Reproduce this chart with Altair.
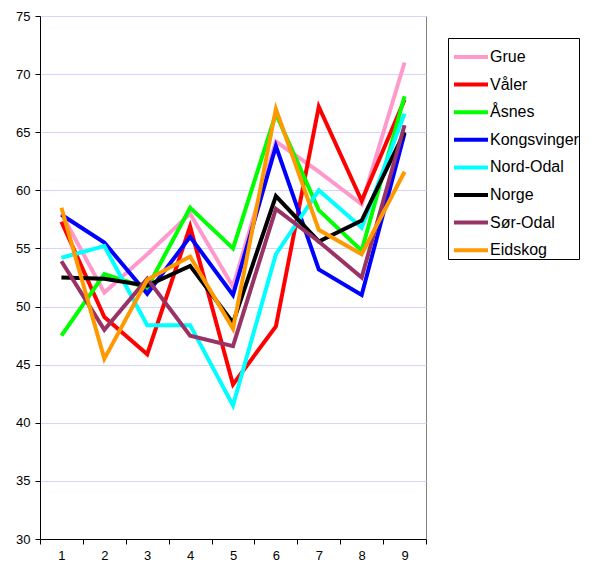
import altair as alt
import pandas as pd

periods = [1, 2, 3, 4, 5, 6, 7, 8, 9]
series_names = ["Grue", "Våler", "Åsnes", "Kongsvinger", "Nord-Odal", "Norge", "Sør-Odal", "Eidskog"]
series_colors = ["#ff99cc", "#ff0000", "#00ff00", "#0000ff", "#00ffff", "#000000", "#993366", "#ff9900"]

grue = [58.0, 51.2, 54.5, 58.0, 51.7, 64.2, 61.6, 58.8, 71.0]
valer = [57.3, 49.1, 45.9, 56.9, 43.3, 48.3, 67.2, 59.1, 67.8]
asnes = [47.5, 52.8, 51.6, 58.5, 55.0, 66.6, 58.3, 54.8, 68.1]
kongsvinger = [57.9, 55.5, 51.1, 56.0, 51.0, 63.8, 53.2, 51.0, 64.9]
nord_odal = [54.2, 55.2, 48.4, 48.4, 41.5, 54.5, 60.0, 56.8, 66.6]
norge = [52.5, 52.4, 51.8, 53.5, 48.6, 59.5, 55.6, 57.4, 65.0]
sor_odal = [53.9, 48.0, 52.4, 47.5, 46.6, 58.4, 55.6, 52.5, 65.6]
eidskog = [58.5, 45.5, 52.3, 54.3, 48.1, 67.0, 56.6, 54.5, 61.6]

y_ticks = [30, 35, 40, 45, 50, 55, 60, 65, 70, 75]

all_series = [grue, valer, asnes, kongsvinger, nord_odal, norge, sor_odal, eidskog]
rows = []
for order, (name, vals) in enumerate(zip(series_names, all_series)):
    for p, v in zip(periods, vals):
        rows.append({"periode": str(p), "verdi": v, "serie": name, "ord": order})
df = pd.DataFrame(rows)

FONT = "Liberation Sans"

chart = alt.Chart(df).mark_line(strokeWidth=4, strokeJoin="miter", strokeCap="butt").encode(
    x=alt.X("periode:O", title=None,
            sort=[str(p) for p in periods],
            scale=alt.Scale(type="band", paddingInner=0, paddingOuter=0),
            axis=alt.Axis(labelAngle=0, tickBand="extent", grid=False, domainColor="#000000",
                          tickColor="#000000", tickSize=5, labelFontSize=13, labelColor="#000000",
                          labelFont=FONT, labelPadding=5)),
    y=alt.Y("verdi:Q", title=None,
            scale=alt.Scale(domain=[30, 75], nice=False, zero=False),
            axis=alt.Axis(values=y_ticks, grid=True, gridColor="#d4d4ff", gridWidth=1,
                          domainColor="#000000", tickColor="#000000", tickSize=5,
                          labelFontSize=13, labelColor="#000000", labelFont=FONT, labelPadding=5)),
    color=alt.Color("serie:N", title=None,
                    scale=alt.Scale(domain=series_names, range=series_colors),
                    legend=alt.Legend(orient="none", legendX=408, legendY=22,
                                      symbolType="stroke", symbolSize=1156, symbolStrokeWidth=4,
                                      symbolOffset=4,
                                      labelFontSize=16, labelFont=FONT, labelColor="#000000",
                                      labelOffset=0, rowPadding=0.6, padding=0,
                                      strokeColor="#000000", fillColor="#ffffff")),
    order=alt.Order("ord:Q"),
    detail="serie:N",
).properties(
    width=386, height=523,
    autosize=alt.AutoSizeParams(type="none"),
    padding={"left": 32, "top": 8, "right": 161, "bottom": 26},
).configure_view(stroke="#808080", strokeWidth=1)

chart.save("out.html", embed_options={"renderer": "svg", "actions": False})
